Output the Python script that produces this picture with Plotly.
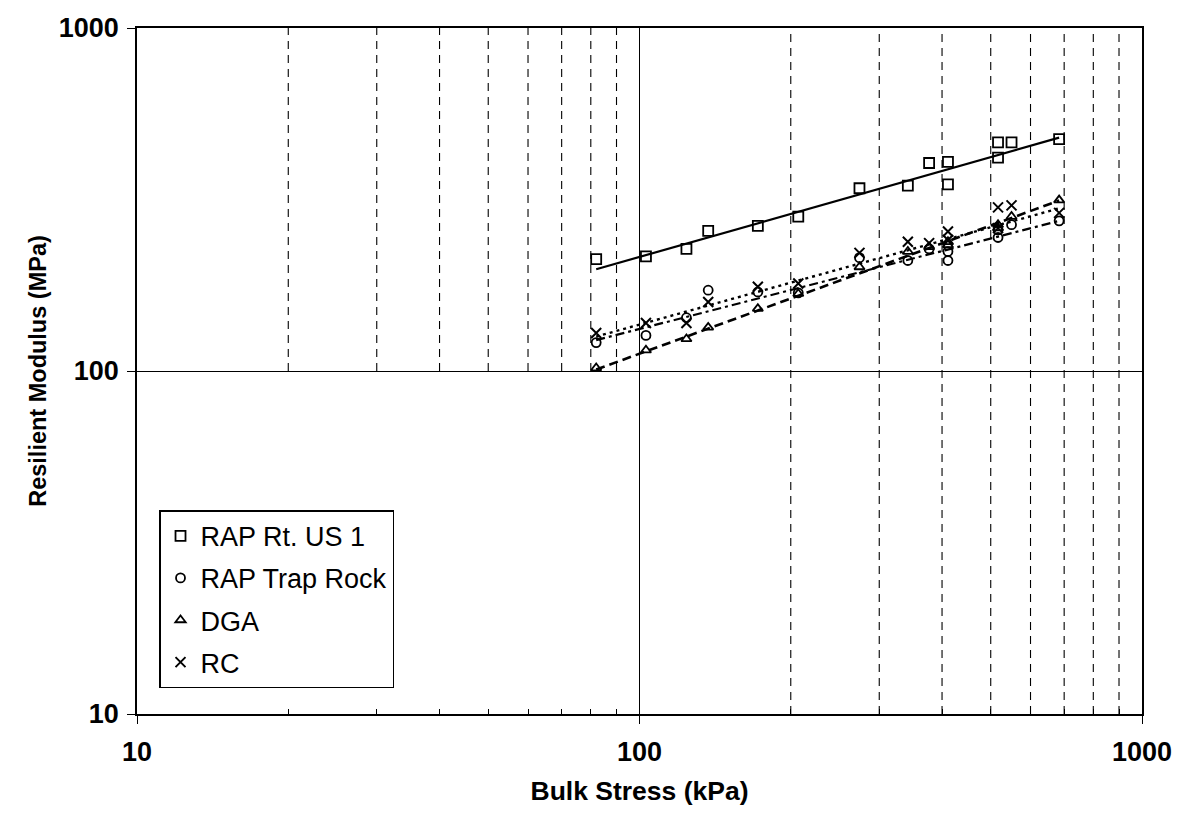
import plotly.graph_objects as go

# ---- data ----
bulk_stress = [82, 103, 124, 137, 172, 207, 274, 342, 377, 411, 411, 517, 517, 550, 684]
rap_us1 = [212, 216, 227, 256, 265, 282, 341, 347, 404, 407, 350, 464, 419, 464, 474]
rap_trap_rock = [121, 127, 143, 172, 170, 169, 214, 210, 227, 210, 223, 245, 258, 267, 274]
dga = [102, 115, 124, 134, 152, 168, 201, 223, 230, 238, 233, 267, 261, 282, 315]
rc = [129, 138, 138, 159, 176, 180, 221, 238, 236, 255, 241, 300, 261, 304, 289]

trend_x = [82, 684]
us1_trend = [198, 479]
trap_trend = [123, 274]
dga_trend = [101, 314]
rc_trend = [126, 298]

minor_x_upper = [20, 30, 40, 50, 60, 70, 80, 90]
minor_x_full = [200, 300, 400, 500, 600, 700, 800, 900]

series_names = ["RAP Rt. US 1", "RAP Trap Rock", "DGA", "RC"]

FONT = "Liberation Sans, Arial, sans-serif"

fig = go.Figure()

# trend lines (not in legend)
fig.add_trace(go.Scatter(x=trend_x, y=us1_trend, mode="lines", showlegend=False,
                         line=dict(color="black", width=2.2)))
fig.add_trace(go.Scatter(x=trend_x, y=trap_trend, mode="lines", showlegend=False,
                         line=dict(color="black", width=2.2, dash="9px,4px,3px,4px")))
fig.add_trace(go.Scatter(x=trend_x, y=dga_trend, mode="lines", showlegend=False,
                         line=dict(color="black", width=2.6, dash="9px,5px")))
fig.add_trace(go.Scatter(x=trend_x, y=rc_trend, mode="lines", showlegend=False,
                         line=dict(color="black", width=2.4, dash="3px,4px")))

# data points
fig.add_trace(go.Scatter(x=bulk_stress, y=rap_us1, mode="markers", name=series_names[0],
                         legendgroup="g1",
                         marker=dict(symbol="square-open", size=10, color="black",
                                     line=dict(width=1.8, color="black"))))
fig.add_trace(go.Scatter(x=bulk_stress, y=rap_trap_rock, mode="markers", name=series_names[1],
                         legendgroup="g2",
                         marker=dict(symbol="circle-open", size=9, color="black",
                                     line=dict(width=1.8, color="black"))))
fig.add_trace(go.Scatter(x=bulk_stress, y=dga, mode="markers", name=series_names[2],
                         legendgroup="g3",
                         marker=dict(symbol="triangle-up-open", size=9, color="black",
                                     line=dict(width=1.8, color="black"))))
fig.add_trace(go.Scatter(x=bulk_stress, y=rc, mode="markers", name=series_names[3],
                         legendgroup="g4",
                         marker=dict(symbol="x-thin-open", size=10, color="black",
                                     line=dict(width=2, color="black"))))

shapes = []
for xv in minor_x_upper:
    shapes.append(dict(type="line", xref="x", yref="y", x0=xv, x1=xv, y0=100, y1=1000,
                       line=dict(color="black", width=1.1, dash="8px,6px"), layer="below"))
for xv in minor_x_full:
    shapes.append(dict(type="line", xref="x", yref="y", x0=xv, x1=xv, y0=10, y1=1000,
                       line=dict(color="black", width=1.1, dash="8px,6px"), layer="below"))

fig.update_layout(
    width=1172, height=817,
    margin=dict(l=129, r=38, t=20, b=111, autoexpand=False),
    paper_bgcolor="white", plot_bgcolor="white",
    font=dict(family=FONT, color="black"),
    shapes=shapes,
    showlegend=True,
    legend=dict(x=0.0219, y=0.297, xanchor="left", yanchor="top",
                bgcolor="white", bordercolor="black", borderwidth=1.5,
                font=dict(family=FONT, size=27, color="black"),
                traceorder="grouped", tracegroupgap=4, itemwidth=30),
)

fig.update_xaxes(
    type="log", range=[1, 3],
    tickvals=[10, 100, 1000], ticktext=["10", "100", "1000"],
    tickfont=dict(family=FONT, size=27, color="black", weight="bold"),
    ticks="outside", ticklen=8, tickwidth=1.3, tickcolor="black",
    ticklabelstandoff=5,
    minor=dict(tickvals=minor_x_upper + minor_x_full, ticks="inside", ticklen=5,
               tickwidth=1, tickcolor="black", showgrid=False),
    showgrid=True, gridcolor="black", gridwidth=1.2,
    showline=True, linecolor="black", linewidth=1.6, mirror=True,
    zeroline=False,
    title=dict(text="Bulk Stress (kPa)", standoff=15,
               font=dict(family=FONT, size=26.5, color="black", weight="bold")),
)
fig.update_yaxes(
    type="log", range=[1, 3],
    tickvals=[10, 100, 1000], ticktext=["10", "100", "1000"],
    tickfont=dict(family=FONT, size=27, color="black", weight="bold"),
    ticks="outside", ticklen=8, tickwidth=1.3, tickcolor="black",
    ticklabelstandoff=3,
    showgrid=True, gridcolor="black", gridwidth=1.2,
    showline=True, linecolor="black", linewidth=1.6, mirror=True,
    zeroline=False,
    title=dict(text="Resilient Modulus (MPa)", standoff=5,
               font=dict(family=FONT, size=23.5, color="black", weight="bold")),
)

fig.write_html("out.html")
